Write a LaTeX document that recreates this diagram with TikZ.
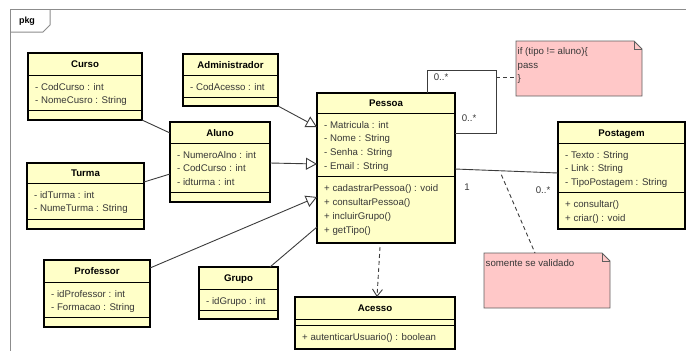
\documentclass[tikz,border=0pt]{standalone}
\usepackage{fontspec}
\setmainfont{Liberation Sans}
\usetikzlibrary{arrows.meta,calc}
\definecolor{clsfill}{RGB}{255,255,200}
\definecolor{notefill}{RGB}{255,200,200}
\definecolor{notedraw}{RGB}{95,95,95}
\definecolor{txtc}{RGB}{55,55,55}
\definecolor{linec}{RGB}{60,60,60}
\definecolor{framec}{RGB}{140,140,140}
\tikzset{
  clsbox/.style={draw=black, fill=clsfill, line width=1.4bp, inner sep=0pt, outer sep=0pt},
  sepline/.style={draw=black, line width=0.9bp},
  titletxt/.style={anchor=base, inner sep=0pt, font=\fontsize{9.7}{12}\selectfont\bfseries, text=black},
  membertxt/.style={anchor=base west, inner sep=0pt, font=\fontsize{9.7}{12}\selectfont, text=txtc},
  multtxt/.style={inner sep=0pt, font=\fontsize{9.7}{12}\selectfont, text=txtc},
  notenode/.style={inner sep=0pt, outer sep=0pt},
  noteline/.style={draw=notedraw, line width=0.8bp},
  conn/.style={draw=linec, line width=0.9bp},
  genarrow/.style={conn, -{Triangle[length=11bp,width=12bp,fill=white,line width=0.9bp]}},
  deparrow/.style={conn, dash pattern=on 4bp off 3bp, -{Straight Barb[length=7bp,width=10bp,line width=0.9bp]}},
  dashconn/.style={conn, dash pattern=on 4bp off 3bp},
}
\newcommand\umlclass[9]{%
  \node[clsbox, anchor=north west, minimum width={(#4-#2)*1bp}, minimum height={(#5-#3)*1bp}] (#1) at (#2,#3) {};
  \draw[sepline] (#2,#6) -- (#4,#6);
  \draw[sepline] (#2,#7) -- (#4,#7);
  \node[titletxt] (#1-title) at ({(#2+#4)/2},{(#3+#6)/2+3.5}) {#8};
  \umlmembers{#1-a}{#2+7}{#6+11.5}{13.7}{#9}%
}
\newcommand\umlmembers[5]{%
  \foreach \t [count=\i] in {#5} {\node[membertxt] (#1\i) at ({#2},{#3+3.5+(\i-1)*#4}) {\t};}%
}
\begin{document}
\begin{tikzpicture}[x=1bp,y=-1bp]
\useasboundingbox (0,0) rectangle (686,351);
% frame
\draw[draw=framec, line width=1bp] (686,9) -- (10,9) -- (10,351);
\draw[draw=framec, line width=1bp] (10,32) -- (43,32) -- (50,25) -- (50,9);
\node[inner sep=0pt, font=\fontsize{9}{11}\selectfont\bfseries] (pkg) at (27,21) {pkg};

% connectors drawn under boxes
\coordinate (selfc) at (496,70);

% classes
\umlclass{curso}{28}{53}{142}{120}{75}{110}{Curso}{- CodCurso : int, - NomeCusro : String}
\umlclass{admin}{183}{54}{278}{106}{75}{97}{Administrador}{- CodAcesso : int}
\umlclass{aluno}{170}{122}{270}{202}{143}{192}{Aluno}{- NumeroAlno : int, - CodCurso : int, - idturma : int}
\umlclass{turma}{27}{163}{144}{229}{183}{219}{Turma}{- idTurma : int, - NumeTurma : String}
\umlclass{prof}{44}{260}{150}{327}{282}{317}{Professor}{- idProfessor : int, - Formacao : String}
\umlclass{grupo}{199}{267}{278}{319}{289}{310}{Grupo}{- idGrupo : int}
\umlclass{pessoa}{317}{93}{455}{243}{113}{176}{Pessoa}{- Matricula : int, - Nome : String, - Senha : String, - Email : String}
\umlmembers{pessoa-m}{324}{188}{13.9}{+ cadastrarPessoa() : void, + consultarPessoa(), + incluirGrupo(), + getTipo()}
\umlclass{acesso}{295}{297}{455}{349}{319}{325}{Acesso}{}
\umlmembers{acesso-m}{302}{337}{13.9}{+ autenticarUsuario() : boolean}
\umlclass{post}{558}{122}{685}{229}{143}{192}{Postagem}{- Texto : String, - Link : String, - TipoPostagem : String}
\umlmembers{post-m}{565}{204}{13.5}{+ consultar(), + criar() : void}

% notes
\node[notenode, anchor=north west, minimum width=126bp, minimum height=55bp] (note1) at (516,41) {};
\draw[noteline, fill=notefill] (note1.north west) -- ($(note1.north east)+(-8,0)$) -- ($(note1.north east)+(0,8)$) -- (note1.south east) -- (note1.south west) -- cycle;
\draw[noteline] ($(note1.north east)+(-8,0)$) |- ($(note1.north east)+(0,8)$);
\umlmembers{note1-t}{517.5}{51}{13.5}{if (tipo != aluno)\{, pass, \}}

\node[notenode, anchor=north west, minimum width=126bp, minimum height=55bp] (note2) at (484,253) {};
\draw[noteline, fill=notefill] (note2.north west) -- ($(note2.north east)+(-8,0)$) -- ($(note2.north east)+(0,8)$) -- (note2.south east) -- (note2.south west) -- cycle;
\draw[noteline] ($(note2.north east)+(-8,0)$) |- ($(note2.north east)+(0,8)$);
\umlmembers{note2-t}{485.5}{263}{13.5}{somente se validado}

% generalizations
\draw[genarrow] (admin.south east) -- ($(pessoa.north west)+(0,34)$);
\draw[genarrow] ($(aluno.north east)+(0,41)$) -- ($(pessoa.north west)+(0,71)$);
\draw[genarrow] ($(prof.north east)+(0,8)$) -- ($(pessoa.north west)+(0,104)$);

% associations
\draw[conn] ($(grupo.north west)+(71,0)$) -- ($(pessoa.north west)+(0,134)$);
\draw[conn] (curso.south east) -- ($(aluno.north west)+(0,11)$);
\draw[conn] ($(turma.north east)+(0,19)$) -- ($(aluno.north west)+(0,52)$);
\draw[conn] ($(pessoa.north west)+(110,0)$) |- (selfc) |- ($(pessoa.north east)+(0,40)$);
\node[multtxt] (m1) at (441,77) {0..*};
\node[multtxt] (m2) at (469,118) {0..*};
\draw[dashconn] ($(selfc)+(0,7)$) -- ($(note1.north west)+(0,36)$);

\draw[conn] ($(pessoa.north east)+(0,76)$) -- ($(post.north west)+(0,51)$) coordinate[pos=0.45] (assocmid);
\node[multtxt] (m3) at (467,187) {1};
\node[multtxt] (m4) at (543,190) {0..*};
\draw[dashconn] ($(assocmid)+(0,4)$) -- ($(note2.north west)+(51,0)$);

% dependency
\draw[deparrow] ($(pessoa.south west)+(63,4)$) -- ($(acesso.north west)+(82,0)$);
\end{tikzpicture}
\end{document}
